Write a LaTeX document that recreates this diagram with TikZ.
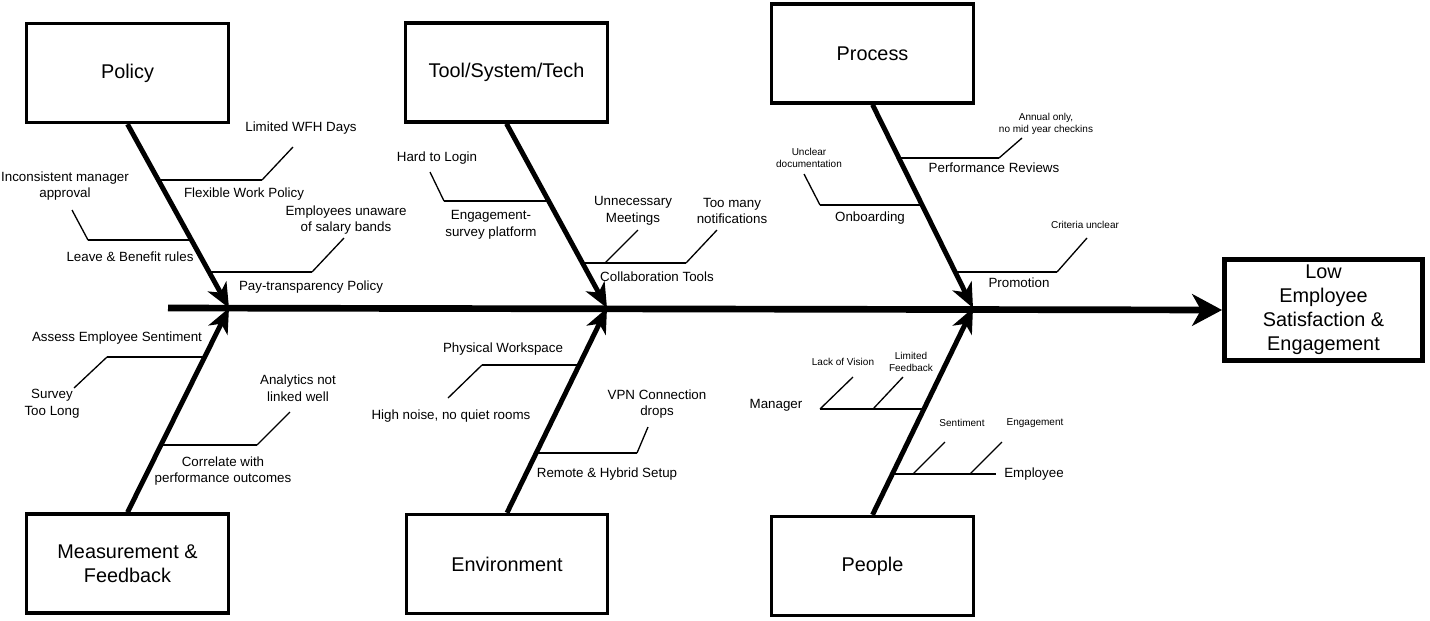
\documentclass[tikz,border=0pt]{standalone}
\usepackage{fontspec}
\setmainfont{Liberation Sans}
\usetikzlibrary{arrows.meta}

\begin{document}
\begin{tikzpicture}[x=0.02cm,y=-0.02cm,
    cause/.style={draw,line width=1.9pt,minimum width=4.03cm,minimum height=1.98cm,align=center,font=\fontsize{11.3}{13.7}\selectfont},
    effect/.style={draw,line width=2.8pt,minimum width=3.96cm,minimum height=1.98cm,align=center,font=\fontsize{11.3}{13.7}\selectfont},
    mid/.style={align=center,inner sep=0pt,font=\fontsize{7.6}{9.5}\selectfont},
    small/.style={align=center,inner sep=0pt,font=\fontsize{5.7}{6.4}\selectfont},
    spine/.style={line width=3.8pt,-{Stealth[length=17pt,width=18pt,inset=5pt]}},
    bone/.style={line width=2.8pt,-{Stealth[length=14pt,width=12pt,inset=4pt]}},
    sub/.style={line width=1.5pt},
    twig/.style={line width=0.75pt}]
    \useasboundingbox (0,0) rectangle (1430,620);

    % boxes
    \node[cause] (policy) at (127.5,73) {Policy};
    \node[cause] (tool) at (506.5,72.5) {Tool/System/Tech};
    \node[cause] (process) at (872.5,53.5) {Process};
    \node[cause] (measure) at (127.5,563.5) {Measurement \&\\Feedback};
    \node[cause] (environ) at (507,564) {Environment};
    \node[cause] (people) at (872.5,566) {People};
    \node[effect] (effect) at (1323.5,310) {Low\\Employee\\Satisfaction \&\\Engagement};

    % spine and bones
    \coordinate (tail) at (168,308);
    \coordinate (pj) at (229,308);
    \coordinate (tj) at (607,308);
    \coordinate (cj) at (973,308);
    \draw[spine] (tail) -- (effect.west);
    \draw[bone] (policy.south) -- (pj);
    \draw[bone] (tool.south) -- (tj);
    \draw[bone] (process.south) -- (cj);
    \draw[bone] (measure.north) -- (pj);
    \draw[bone] (environ.north) -- (tj);
    \draw[bone] (people.north) -- (cj);

    % Policy
    \coordinate (fwp1) at (159,180); \coordinate (fwp2) at (262,180); \coordinate (wfh) at (293,147);
    \coordinate (lbr1) at (192,240); \coordinate (lbr2) at (88,240); \coordinate (ima) at (72,210);
    \coordinate (ptp1) at (210,272); \coordinate (ptp2) at (312,272); \coordinate (eus) at (344,238);
    \draw[sub] (fwp1) -- (fwp2); \draw[twig] (fwp2) -- (wfh);
    \draw[sub] (lbr1) -- (lbr2); \draw[twig] (lbr2) -- (ima);
    \draw[sub] (ptp1) -- (ptp2); \draw[twig] (ptp2) -- (eus);
    \node[mid] (tWFH) at (301,128) {Limited WFH Days};
    \node[mid] (tFWP) at (244,194) {Flexible Work Policy};
    \node[mid] (tIMA) at (65,186) {Inconsistent manager\\approval};
    \node[mid] (tLBR) at (130,257) {Leave \& Benefit rules};
    \node[mid] (tEUS) at (346,220) {Employees unaware\\of salary bands};
    \node[mid] (tPTP) at (311,287) {Pay-transparency Policy};

    % Tool/System/Tech
    \coordinate (esp1) at (549,201); \coordinate (esp2) at (444,201); \coordinate (htl) at (430,172);
    \coordinate (clt1) at (583,263); \coordinate (clt2) at (686,263); \coordinate (cltm) at (605,263);
    \coordinate (um) at (638,230); \coordinate (tmn) at (717,230);
    \draw[sub] (esp1) -- (esp2); \draw[twig] (esp2) -- (htl);
    \draw[sub] (clt1) -- (clt2); \draw[twig] (cltm) -- (um); \draw[twig] (clt2) -- (tmn);
    \node[mid] (tHTL) at (437,158) {Hard to Login};
    \node[mid] (tESP) at (491,225) {Engagement-\\survey platform};
    \node[mid] (tUM) at (633,211) {Unnecessary\\Meetings};
    \node[mid] (tTMN) at (732,211) {Too many\\notifications};
    \node[mid] (tCLT) at (657,277) {Collaboration Tools};

    % Process
    \coordinate (prv1) at (900,158); \coordinate (prv2) at (999,158); \coordinate (ann) at (1022,138);
    \coordinate (onb1) at (922,205); \coordinate (onb2) at (820,205); \coordinate (ucd) at (804,174);
    \coordinate (prm1) at (955,272); \coordinate (prm2) at (1057,272); \coordinate (cru) at (1087,238);
    \draw[sub] (prv1) -- (prv2); \draw[twig] (prv2) -- (ann);
    \draw[sub] (onb1) -- (onb2); \draw[twig] (onb2) -- (ucd);
    \draw[sub] (prm1) -- (prm2); \draw[twig] (prm2) -- (cru);
    \node[small] (tANN) at (1046,124) {Annual only,\\no mid year checkins};
    \node[mid] (tPRV) at (994,168) {Performance Reviews};
    \node[small] (tUCD) at (809,158) {Unclear\\documentation};
    \node[mid] (tONB) at (870,218) {Onboarding};
    \node[small] (tCRU) at (1085,225) {Criteria unclear};
    \node[mid] (tPRM) at (1019,283) {Promotion};

    % Measurement & Feedback
    \coordinate (aes1) at (205,357); \coordinate (aes2) at (107,357); \coordinate (stl) at (74,388);
    \coordinate (cpo1) at (161,445); \coordinate (cpo2) at (257,445); \coordinate (anl) at (290,412);
    \draw[sub] (aes1) -- (aes2); \draw[twig] (aes2) -- (stl);
    \draw[sub] (cpo1) -- (cpo2); \draw[twig] (cpo2) -- (anl);
    \node[mid] (tAES) at (117,338) {Assess Employee Sentiment};
    \node[mid] (tSTL) at (52,404) {Survey\\Too Long};
    \node[mid] (tANL) at (298,388) {Analytics not\\linked well};
    \node[mid] (tCPO) at (223,471) {Correlate with\\performance outcomes};

    % Environment
    \coordinate (phw1) at (579,365); \coordinate (phw2) at (482,365); \coordinate (hnq) at (448,398);
    \coordinate (rhs1) at (536,453); \coordinate (rhs2) at (637,453); \coordinate (vpn) at (648,427);
    \draw[sub] (phw1) -- (phw2); \draw[twig] (phw2) -- (hnq);
    \draw[sub] (rhs1) -- (rhs2); \draw[twig] (rhs2) -- (vpn);
    \node[mid] (tPHW) at (503,349) {Physical Workspace};
    \node[mid] (tHNQ) at (451,416) {High noise, no quiet rooms};
    \node[mid] (tVPN) at (657,404) {VPN Connection\\drops};
    \node[mid] (tRHS) at (607,474) {Remote \& Hybrid Setup};

    % People
    \coordinate (mgr1) at (924,409); \coordinate (mgr2) at (820,409); \coordinate (mgrm) at (873,409);
    \coordinate (lov) at (853,377); \coordinate (lfb) at (903,377);
    \coordinate (emp1) at (892,474); \coordinate (emp2) at (996,474);
    \coordinate (emps) at (913,474); \coordinate (empg) at (970,474);
    \coordinate (sen) at (945,442); \coordinate (eng) at (1002,442);
    \draw[sub] (mgr1) -- (mgr2); \draw[twig] (mgr2) -- (lov); \draw[twig] (mgrm) -- (lfb);
    \draw[sub] (emp1) -- (emp2); \draw[twig] (emps) -- (sen); \draw[twig] (empg) -- (eng);
    \node[small] (tLOV) at (843,362) {Lack of Vision};
    \node[small] (tLFB) at (911,362) {Limited\\Feedback};
    \node[mid] (tMGR) at (776,405) {Manager};
    \node[small] (tSEN) at (962,423) {Sentiment};
    \node[small] (tENG) at (1035,423) {Engagement};
    \node[mid] (tEMP) at (1034,474) {Employee};
\end{tikzpicture}
\end{document}
